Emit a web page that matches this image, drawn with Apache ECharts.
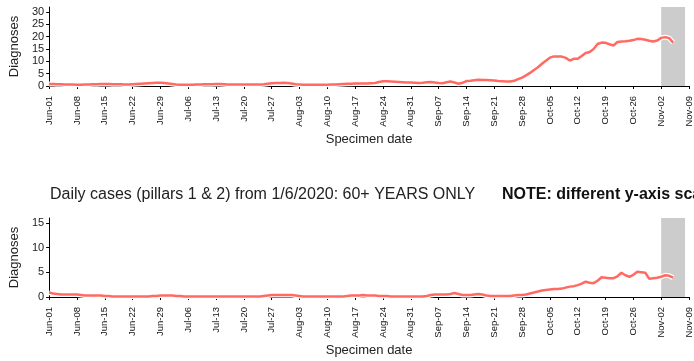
<!DOCTYPE html>
<html>
<head>
<meta charset="utf-8">
<script src="https://cdn.jsdelivr.net/npm/echarts@6/dist/echarts.min.js"></script>
<style>
html, body { margin: 0; padding: 0; background: #fff; }
#chart { width: 694px; height: 361px; }
</style>
</head>
<body>
<div id="chart"></div>
<script>
// x axis: Jun-01 .. Nov-09
var months = ['Jun', 'Jul', 'Aug', 'Sep', 'Oct', 'Nov'];
var monthDays = [30, 31, 31, 30, 31, 9];

// all ages, daily diagnoses (top panel)
var topJun = [0.8,0.8,0.7,0.7,0.6,0.6,0.6,0.5,0.5,0.6,0.6,0.7,0.7,0.8,0.8,0.8,0.7,0.7,0.7,0.6,0.6,0.7,0.8,0.9,1.0,1.1,1.2,1.3,1.3,1.2];
var topJul = [1.0,0.8,0.6,0.5,0.5,0.5,0.5,0.6,0.6,0.7,0.7,0.7,0.8,0.8,0.7,0.6,0.6,0.6,0.6,0.6,0.6,0.6,0.6,0.6,0.7,0.9,1.1,1.2,1.2,1.3,1.2];
var topAug = [1.0,0.7,0.6,0.5,0.5,0.5,0.5,0.5,0.5,0.5,0.6,0.6,0.7,0.8,0.9,0.9,1.0,1.0,1.0,1.0,1.1,1.2,1.6,1.9,1.9,1.8,1.7,1.6,1.5,1.4,1.4];
var topSep = [1.3,1.2,1.3,1.5,1.6,1.4,1.2,1.1,1.5,1.8,1.4,0.9,1.3,2.0,2.1,2.3,2.5,2.4,2.4,2.3,2.2,2.0,1.9,1.8,1.8,2.1,2.8,3.4,4.3,5.3];
var topOct = [6.5,7.6,9.0,10.2,11.5,12.0,12.0,11.9,11.4,10.3,11.0,11.0,12.2,13.4,13.8,15.0,17.0,17.6,17.5,16.9,16.4,17.8,18.0,18.1,18.3,18.6,19.1,19.0,18.7,18.3,18.0];
var topNov = [18.4,19.5,19.8,19.4,17.6];

// 60+ years only (bottom panel)
var botJun = [0.9,0.7,0.6,0.5,0.5,0.5,0.5,0.5,0.4,0.3,0.3,0.3,0.3,0.3,0.2,0.2,0.1,0.1,0.1,0.1,0.1,0.1,0.1,0.1,0.1,0.1,0.2,0.2,0.3,0.3];
var botJul = [0.3,0.3,0.2,0.2,0.1,0.1,0.1,0.1,0.1,0.1,0.1,0.1,0.1,0.1,0.1,0.1,0.1,0.1,0.1,0.1,0.1,0.1,0.1,0.1,0.2,0.3,0.4,0.4,0.4,0.4,0.4];
var botAug = [0.4,0.3,0.2,0.1,0.1,0.1,0.1,0.1,0.1,0.1,0.1,0.1,0.1,0.1,0.2,0.3,0.3,0.3,0.4,0.3,0.3,0.3,0.2,0.2,0.2,0.1,0.1,0.1,0.1,0.1,0.1];
var botSep = [0.1,0.1,0.1,0.2,0.4,0.5,0.5,0.5,0.5,0.6,0.8,0.6,0.4,0.4,0.4,0.5,0.6,0.5,0.3,0.2,0.2,0.2,0.2,0.2,0.2,0.3,0.4,0.4,0.5,0.7];
var botOct = [0.9,1.1,1.3,1.4,1.5,1.6,1.6,1.7,1.9,2.1,2.2,2.4,2.7,3.1,2.9,2.8,3.3,4.0,3.9,3.8,3.8,4.2,4.9,4.4,4.1,4.5,5.1,5.0,4.9,3.7,3.8];
var botNov = [3.9,4.1,4.4,4.3,3.9];

var topTicks = [0, 5, 10, 15, 20, 25, 30];
var botTicks = [0, 5, 10, 15];
var shadeRange = ['Nov-02', 'Nov-08'];

var dates = [];
months.forEach(function (m, i) {
  for (var d = 1; d <= monthDays[i]; d++) {
    dates.push(m + '-' + (d < 10 ? '0' + d : d));
  }
});

var topData = [].concat(topJun, topJul, topAug, topSep, topOct, topNov);
var botData = [].concat(botJun, botJul, botAug, botSep, botOct, botNov);

var lineRed = '#ff6b63';
var font = 'Liberation Sans, Arial, sans-serif';

function xAxisFor(idx) {
  return {
    type: 'category',
    gridIndex: idx,
    data: dates,
    boundaryGap: false,
    name: 'Specimen date',
    nameLocation: 'middle',
    nameGap: 47,
    nameTextStyle: { fontSize: 13, color: '#222', fontFamily: font },
    axisLine: { lineStyle: { color: '#000', width: 1 } },
    axisTick: { interval: 6, length: 3, inside: false, lineStyle: { color: '#000' } },
    axisLabel: { interval: 6, rotate: 90, fontSize: 9.5, color: '#111', margin: 10, fontFamily: font },
    splitLine: { show: false }
  };
}

function yAxisFor(idx, max, ticks) {
  return {
    type: 'value',
    gridIndex: idx,
    min: 0,
    max: max,
    name: 'Diagnoses',
    nameLocation: 'middle',
    nameRotate: 90,
    nameGap: 27,
    nameTextStyle: { fontSize: 13, color: '#222', fontFamily: font },
    axisLine: { show: true, lineStyle: { color: '#000', width: 1 } },
    axisTick: { show: true, length: 3, lineStyle: { color: '#000' }, customValues: ticks },
    axisLabel: { fontSize: 11, color: '#222', margin: 5, fontFamily: font, customValues: ticks },
    splitLine: { show: false }
  };
}

function seriesFor(idx, data) {
  return [{
    type: 'line',
    xAxisIndex: idx,
    yAxisIndex: idx,
    data: data,
    symbol: 'none',
    silent: true,
    lineStyle: { color: '#fff', width: 5 },
    markArea: {
      silent: true,
      itemStyle: { color: '#cccccc' },
      data: [[{ xAxis: shadeRange[0] }, { xAxis: shadeRange[1] }]]
    },
    z: 2
  }, {
    type: 'line',
    xAxisIndex: idx,
    yAxisIndex: idx,
    data: data,
    symbol: 'none',
    silent: true,
    lineStyle: { color: lineRed, width: 2.5 },
    z: 3
  }];
}

var chart = echarts.init(document.getElementById('chart'), null, { renderer: 'canvas' });
chart.setOption({
  animation: false,
  backgroundColor: '#fff',
  title: [{
    text: 'Daily cases (pillars 1 & 2) from 1/6/2020: 60+ YEARS ONLY',
    left: 45,
    top: 182,
    textStyle: { fontSize: 16, fontWeight: 'normal', color: '#222', fontFamily: font }
  }, {
    text: 'NOTE: different y-axis scale',
    left: 497,
    top: 182,
    textStyle: { fontSize: 16, fontWeight: 'bold', color: '#111', fontFamily: font }
  }],
  grid: [
    { left: 48, right: 5, top: 7, height: 79 },
    { left: 48, right: 5, top: 218, height: 79 }
  ],
  xAxis: [xAxisFor(0), xAxisFor(1)],
  yAxis: [yAxisFor(0, 32, topTicks), yAxisFor(1, 16, botTicks)],
  series: seriesFor(0, topData).concat(seriesFor(1, botData))
});
</script>
</body>
</html>
